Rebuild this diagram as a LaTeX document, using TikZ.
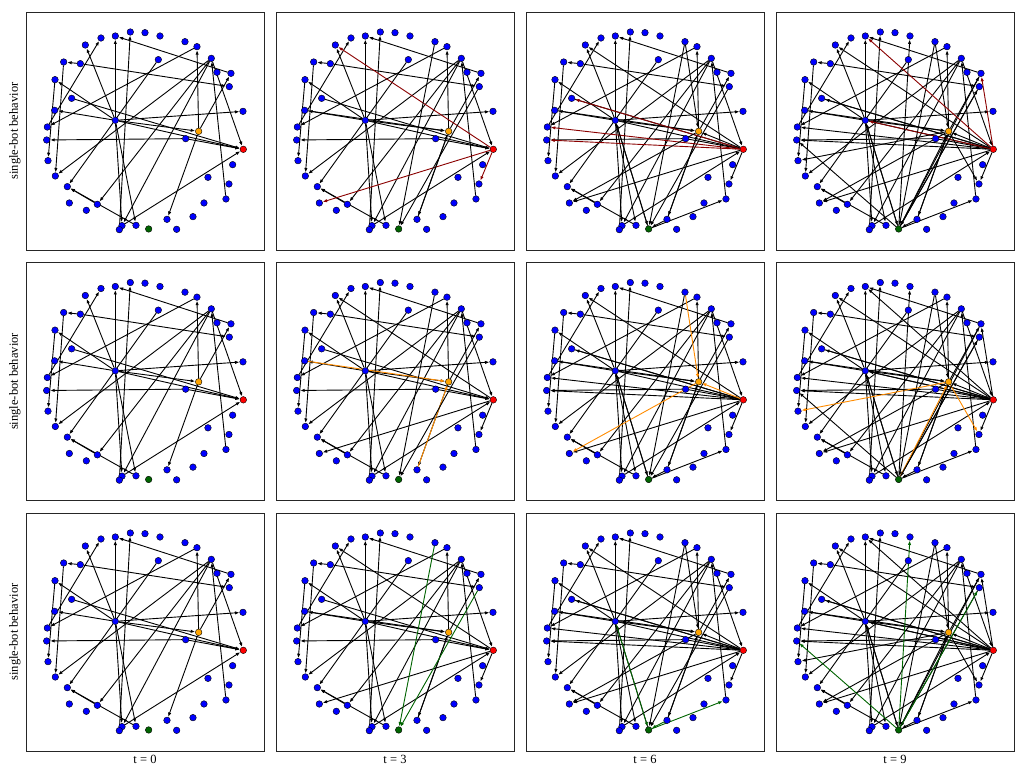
\documentclass[tikz,border=0pt]{standalone}
\usepackage{fontspec}
\setmainfont{Liberation Serif}
\usepackage{xcolor}
\definecolor{nodeBlue}{HTML}{0000FF}
\definecolor{botRed}{HTML}{FF0000}
\definecolor{botOrange}{HTML}{FFA500}
\definecolor{botGreen}{HTML}{006400}
\definecolor{edgeRed}{HTML}{8B0000}
\definecolor{edgeOrange}{HTML}{FF8C00}
\definecolor{edgeGreen}{HTML}{006400}
\usepackage{tikz}
\usetikzlibrary{arrows.meta,backgrounds}

% nodes of the follower graph (same layout in every panel)
\newcommand{\graphnodes}{%
  \foreach \nm/\x/\y in {n1/268/72, n2/313/60, n3/357/62, n4/402/72, n5/225/78,
      n6/178/99, n7/477/89, n8/513/104, n9/556/139, n10/573/181, n11/615/184,
      n12/610/224, n13/651/298, n15/620/458, n16/546/496, n17/609/516,
      n18/600/561, n19/534/573, n20/501/614, n21/452/652, n22/423/622,
      n24/330/640, n25/288/641, n26/280/653, n27/214/577, n28/181/595,
      n29/130/573, n30/124/524, n31/88/492, n32/66/446, n33/62/384,
      n34/64/345, n35/86/295, n36/137/259, n37/87/203, n38/113/150,
      n39/163/155, n40/397/143, hub/268/325, n43/479/380}
    \node[v] (\nm) at (\x,\y) {};
  \node[v, fill=botRed] (botr) at (652,412) {};
  \node[v, fill=botOrange] (boto) at (518,358) {};
  \node[v, fill=botGreen] (botg) at (368,651) {};
}

% edges at t = 0
\def\edgeszero{hub/n1, n26/n2, n11/n1, hub/n6, n34/n5, hub/n37, n36/botr,
  hub/botr, hub/boto, hub/n35, n43/n33, hub/n13, n39/n38, n39/n12, boto/n11,
  n38/n31, n37/n32, n8/n34, n40/n30, boto/n8, n9/botr, n18/n9, n9/n25,
  n9/n27, n9/n31, n24/n30, n27/n30, hub/n25, hub/n24, boto/n22, n25/botr,
  n43/botr}
% bot edges per step
\def\redthree{botr/n6, botr/n29, botr/n17}
\def\orathree{n35/boto, n22/boto}
\def\grnthree{n7/botg, n12/botg}
\def\redsix{botr/n36, botr/n34, botr/n33}
\def\orasix{n7/boto, botr/boto, boto/n29}
\def\grnsix{hub/botg, botg/n18, n22/botg}
\def\rednine{botr/n1, botr/hub, botr/n11}
\def\oranine{boto/n32, boto/n17, botg/boto}
\def\grnnine{botg/n4, botg/n33, botg/n12}
% other new edges
\def\blacksix{botg/hub}
\def\blacknine{n11/botg}

% #1-#3 red/orange/green lists, #4 row, #5 = 1 if newest step
\newcommand{\drawbots}[5]{%
  \def\colr{black}\def\colo{black}\def\colg{black}%
  \ifnum#5=1
    \ifcase#4\or\def\colr{edgeRed}\or\def\colo{edgeOrange}\or\def\colg{edgeGreen}\fi
  \fi
  \foreach \src/\dst in #1 \draw[e, draw=\colr] (\src) -- (\dst);
  \foreach \src/\dst in #2 \draw[e, draw=\colo] (\src) -- (\dst);
  \foreach \src/\dst in #3 \draw[e, draw=\colg] (\src) -- (\dst);
}

% #1 row, #2 column
\newcommand{\drawpanel}[2]{%
  \begin{scope}[shift={(26+250*#2,12+250.5*(#1-1))}, x=0.3333pt, y=-0.3333pt]
    \draw[frame] (0,0) rectangle (714,714);
    \graphnodes
    \begin{pgfonlayer}{background}
      \foreach \src/\dst in \edgeszero \draw[e] (\src) -- (\dst);
      \ifnum#2>0
        \ifnum#2=1 \drawbots{\redthree}{\orathree}{\grnthree}{#1}{1}%
        \else \drawbots{\redthree}{\orathree}{\grnthree}{#1}{0}\fi
      \fi
      \ifnum#2>1
        \foreach \src/\dst in \blacksix \draw[e] (\src) -- (\dst);
        \ifnum#2=2 \drawbots{\redsix}{\orasix}{\grnsix}{#1}{1}%
        \else \drawbots{\redsix}{\orasix}{\grnsix}{#1}{0}\fi
      \fi
      \ifnum#2=3
        \foreach \src/\dst in \blacknine \draw[e] (\src) -- (\dst);
        \drawbots{\rednine}{\oranine}{\grnnine}{#1}{1}%
      \fi
    \end{pgfonlayer}
  \end{scope}}

\begin{document}
\begin{tikzpicture}[x=1pt, y=-1pt,
    every node/.style={font=\fontsize{12.5}{14}\selectfont},
    v/.style={circle, draw=black, line width=0.4pt, fill=nodeBlue,
      inner sep=0pt, minimum size=6.6pt},
    e/.style={draw=black, line width=0.9pt, -{Latex[length=4.5pt,width=3.4pt]}},
    frame/.style={draw=black!85, line width=0.9pt}]
  \begin{pgfonlayer}{background}
    \fill[white] (0,0) rectangle (1029,768);
  \end{pgfonlayer}
  \useasboundingbox (0,0) rectangle (1029,768);
  % Panels
  \foreach \r in {1,2,3} {
    \foreach \c in {0,1,2,3} {
      \drawpanel{\r}{\c}
    }
  }
  % Labels
  \foreach \r in {1,2,3}
    \node[rotate=90] (rowlab\r) at (15,131+250.5*\r-250.5) {single-bot behavior};
  \foreach \c/\tval in {0/0,1/3,2/6,3/9}
    \node (timelab\c) at (145+250*\c,759) {t = \tval};
\end{tikzpicture}
\end{document}
